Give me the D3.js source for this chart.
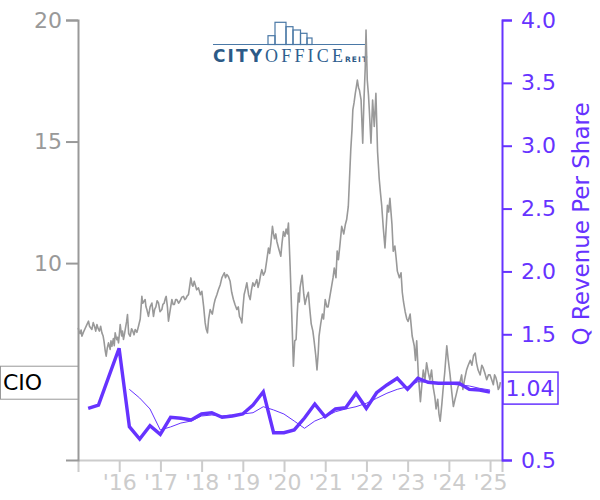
<!DOCTYPE html>
<html><head><meta charset="utf-8">
<script src="https://cdn.jsdelivr.net/npm/d3@7"></script>
<style>body{margin:0;background:#fff}svg{display:block}</style>
</head><body><svg id="c" width="600" height="500"></svg>
<script>
// ---- data ----
const ticker = "CIO";
const axisTitle = "Q Revenue Per Share";
const yearTicks = [2016,2017,2018,2019,2020,2021,2022,2023,2024,2025];
const priceTicks = [5,10,15,20];
const revTicks = [0.5,1.0,1.5,2.0,2.5,3.0,3.5,4.0];

const priceYears = [
2015.005,2015.03,2015.05,2015.075,2015.095,2015.13,2015.17,2015.21,2015.255,2015.28,2015.30,2015.337,2015.37,2015.40,2015.43,2015.459,2015.49,2015.52,2015.55,2015.58,2015.61,2015.63,2015.66,2015.684,2015.71,2015.74,2015.78,2015.80,2015.822,2015.86,2015.88,2015.902,2015.94,2015.96,2015.983,
2016.005,2016.024,2016.06,2016.08,2016.104,2016.13,2016.15,2016.18,2016.201,2016.23,2016.266,2016.30,2016.33,2016.36,2016.388,2016.43,2016.468,2016.51,2016.55,2016.57,2016.59,2016.63,2016.65,2016.67,2016.71,2016.75,2016.793,2016.832,2016.86,2016.89,2016.92,2016.953,2016.99,
2017.035,2017.06,2017.09,2017.12,2017.14,2017.17,2017.196,2017.24,2017.278,2017.31,2017.34,2017.37,2017.399,2017.44,2017.48,2017.52,2017.559,2017.59,2017.62,2017.65,2017.681,2017.739,2017.77,2017.79,2017.82,2017.843,2017.88,2017.923,2017.97,
2018.006,2018.05,2018.086,2018.11,2018.142,2018.17,2018.207,2018.26,2018.30,2018.328,2018.37,2018.409,2018.45,2018.491,2018.52,2018.55,2018.58,2018.612,2018.65,2018.692,2018.73,2018.772,2018.81,2018.855,2018.89,2018.92,2018.95,2018.976,
2019.00,2019.032,2019.06,2019.098,2019.14,2019.178,2019.21,2019.243,2019.28,2019.34,2019.37,2019.40,2019.43,2019.461,2019.50,2019.542,2019.58,2019.622,2019.65,2019.68,2019.719,2019.745,2019.77,2019.80,2019.825,2019.87,2019.922,2019.95,2019.985,
2020.02,2020.05,2020.08,2020.107,2020.148,2020.189,2020.228,2020.26,2020.293,2020.32,2020.349,2020.37,2020.39,2020.42,2020.44,2020.48,2020.51,2020.55,2020.59,2020.62,2020.66,2020.70,2020.73,2020.77,2020.80,2020.83,2020.85,2020.89,2020.93,2020.96,
2021.00,2021.04,2021.07,2021.11,2021.15,2021.19,2021.22,2021.26,2021.29,2021.32,2021.36,2021.40,2021.45,2021.49,2021.52,2021.56,2021.59,2021.62,2021.65,2021.67,2021.70,2021.73,2021.76,2021.78,2021.81,2021.83,2021.87,2021.91,2021.94,2021.97,2021.99,
2022.02,2022.05,2022.07,2022.11,2022.15,2022.19,2022.23,2022.27,2022.31,2022.34,2022.37,2022.41,2022.45,2022.48,2022.51,2022.54,2022.57,2022.62,2022.65,2022.69,2022.72,2022.75,2022.80,2022.84,2022.87,2022.90,2022.94,2022.98,
2023.01,2023.06,2023.11,2023.16,2023.19,2023.22,2023.26,2023.31,2023.35,2023.38,2023.42,2023.46,2023.50,2023.54,2023.58,2023.62,2023.66,2023.69,2023.73,2023.76,2023.79,2023.83,2023.86,2023.90,2023.95,2023.98,
2024.03,2024.07,2024.11,2024.15,2024.18,2024.22,2024.27,2024.31,2024.34,2024.38,2024.43,2024.47,2024.52,2024.56,2024.60,2024.64,2024.67,2024.71,2024.76,2024.80,2024.83,2024.87,2024.92,2024.96,
2025.00,2025.04,2025.08,2025.11,2025.14,2025.17,2025.20,2025.23,2025.25
];
const priceValues = [
7.34,7.15,7.10,7.25,6.99,7.15,7.30,7.45,7.61,7.40,7.35,7.27,7.55,7.40,7.20,7.47,7.30,7.20,7.40,7.13,7.00,6.80,6.40,6.17,6.50,6.72,6.45,6.80,6.58,6.90,6.60,7.13,6.85,6.95,6.72,
7.10,7.47,7.00,7.20,6.86,7.10,7.30,7.60,7.88,7.10,6.99,7.30,7.20,7.05,7.27,7.15,7.40,7.70,8.63,8.35,8.40,8.50,8.20,8.10,7.81,8.20,8.36,7.81,8.10,8.20,8.45,8.36,8.00,
8.09,8.30,8.35,8.55,8.63,8.20,7.61,8.10,8.50,8.30,8.30,8.50,8.50,8.35,8.45,8.60,8.63,8.50,8.55,8.65,8.70,9.39,9.10,9.05,9.25,9.12,8.90,8.98,8.70,
8.84,8.20,7.54,7.30,7.13,7.70,8.09,7.90,8.30,8.50,8.70,8.91,9.10,9.39,9.50,9.60,9.40,9.53,9.45,9.25,8.80,8.50,8.30,8.09,8.20,7.80,7.70,7.54,
8.10,8.71,8.90,9.19,8.70,8.50,8.90,9.19,9.05,9.32,9.00,9.20,9.50,9.73,9.50,9.66,10.10,10.62,10.40,10.80,11.51,11.20,11.00,11.20,10.90,10.60,10.28,10.80,11.30,
11.10,11.40,11.20,11.65,9.87,7.81,5.76,6.80,6.86,7.90,8.77,8.40,9.00,9.30,9.50,8.70,8.30,8.60,8.80,8.20,7.50,7.20,6.80,6.20,5.60,6.30,7.00,7.50,7.90,7.70,
8.50,8.20,8.20,8.60,9.00,9.40,9.80,9.40,10.50,10.14,10.80,11.51,11.20,11.60,11.79,12.33,13.50,14.66,15.50,16.30,16.60,16.98,17.30,17.53,17.20,17.12,16.71,14.93,16.71,18.00,19.59,
17.53,16.90,16.30,14.93,16.71,15.62,16.98,14.58,13.47,12.90,12.38,11.43,10.62,11.50,12.38,12.10,12.67,11.58,10.49,10.70,10.22,9.67,9.40,9.60,8.80,8.40,8.00,7.70,
7.60,7.90,7.00,6.60,6.00,6.80,5.40,4.30,5.10,5.60,5.20,5.90,5.50,5.20,5.60,4.90,4.50,4.00,4.40,3.80,3.50,4.20,4.80,5.50,6.60,6.10,
5.40,4.70,4.10,4.40,4.60,4.90,5.10,5.40,4.80,5.20,5.60,5.80,6.00,5.80,6.20,6.30,5.90,5.60,5.40,5.80,5.70,5.50,5.20,5.40,
5.40,5.20,5.00,5.40,5.30,5.10,4.80,4.90,5.10
];

const revQuarters = ["2015Q1","2015Q2","2015Q3","2015Q4","2016Q1","2016Q2","2016Q3","2016Q4",
"2017Q1","2017Q2","2017Q3","2017Q4","2018Q1","2018Q2","2018Q3","2018Q4",
"2019Q1","2019Q2","2019Q3","2019Q4","2020Q1","2020Q2","2020Q3","2020Q4",
"2021Q1","2021Q2","2021Q3","2021Q4","2022Q1","2022Q2","2022Q3","2022Q4",
"2023Q1","2023Q2","2023Q3","2023Q4","2024Q1","2024Q2","2024Q3","2024Q4"];
const revValues = [0.911,0.937,1.163,1.389,0.765,0.667,0.773,0.704,
0.840,0.832,0.818,0.866,0.876,0.840,0.850,0.866,
0.937,1.043,0.717,0.717,0.739,0.834,0.945,0.844,
0.906,0.916,1.031,0.911,1.035,1.097,1.150,1.062,
1.150,1.118,1.110,1.110,1.110,1.062,1.057,1.040];

const avgQuarters = revQuarters.slice(4);
const avgValues = [1.062,0.993,0.906,0.739,
0.763,0.794,0.810,0.850,0.858,0.850,0.858,0.866,
0.876,0.924,0.898,0.866,0.810,0.752,0.810,0.844,
0.884,0.906,0.924,0.951,0.991,1.031,1.062,1.083,
1.123,1.118,1.110,1.104,1.097,1.089,1.070,1.057];

// ---- chart ----
const FONT = "DejaVu Sans, sans-serif";
const PURPLE = "#6633ff";
const svg = d3.select("#c");
const x = d3.scaleLinear().domain([2015.0, 2025.29]).range([78, 502]);
const yL = d3.scaleLinear().domain([1.9, 20]).range([460, 20]);
const yR = d3.scaleLinear().domain([0.5, 4.0]).range([460, 20]);
const qYear = q => +q.slice(0,4) + (+q.slice(5)) * 0.25 - 0.003;

const lastP = priceValues[priceValues.length-1];
const lastR = revValues[revValues.length-1];

// logo
const logo = svg.append("g").attr("fill","none").attr("stroke","#4a78a6").attr("stroke-width",1.2);
logo.append("line").attr("x1",213).attr("x2",366).attr("y1",44.5).attr("y2",44.5);
[[268,35.7,7,8.8],[275,22.3,11,22.2],[277.5,24.5,0,20],[286,26.7,7,17.8],[288,28.5,0,16],[293,30,7.5,14.5],[295,32,0,12.5],[300.5,33.3,6.5,11.2],[307,38,5,6.5]]
  .forEach(r => logo.append("rect").attr("x",r[0]).attr("y",r[1]).attr("width",r[2]).attr("height",r[3]));
svg.append("text").attr("x",213).attr("y",62).attr("font-family","DejaVu Sans").attr("font-weight","bold")
  .attr("font-size",17).attr("fill","#2c5a87").attr("textLength",49).attr("lengthAdjust","spacing").text("CITY");
svg.append("text").attr("x",265).attr("y",62).attr("font-family","Liberation Serif").attr("font-size",18)
  .attr("fill","#2f5f8f").attr("textLength",78).attr("lengthAdjust","spacing").text("OFFICE");
svg.append("text").attr("x",345).attr("y",62).attr("font-family","DejaVu Sans").attr("font-weight","bold")
  .attr("font-size",7.5).attr("fill","#2c5a87").attr("textLength",22).attr("lengthAdjust","spacing").text("REIT");

// price line
const priceData = priceYears.map((t,i)=>[t, priceValues[i]]);
svg.append("path").datum(priceData).attr("fill","none").attr("stroke","#999").attr("stroke-width",1.6)
  .attr("stroke-linejoin","round").attr("d", d3.line().x(d=>x(d[0])).y(d=>yL(d[1])));

// revenue lines
const avgData = avgQuarters.map((q,i)=>[qYear(q), avgValues[i]]);
svg.append("path").datum(avgData).attr("fill","none").attr("stroke",PURPLE).attr("stroke-width",1)
  .attr("d", d3.line().x(d=>x(d[0])).y(d=>yR(d[1])));
const revData = revQuarters.map((q,i)=>[qYear(q), revValues[i]]);
svg.append("path").datum(revData).attr("fill","none").attr("stroke",PURPLE).attr("stroke-width",3.4)
  .attr("d", d3.line().x(d=>x(d[0])).y(d=>yR(d[1])));

// x axis
const gx = svg.append("g").attr("transform","translate(0,460)")
  .call(d3.axisBottom(x).tickValues(yearTicks).tickFormat(d=>"'"+String(d).slice(2)).tickSize(12).tickPadding(2));
gx.selectAll("path,line").attr("stroke","#ccc").attr("stroke-width",2);
gx.selectAll("text").attr("fill","#ccc").attr("font-family",FONT).attr("font-size",22);

// left axis (the label under the ticker box is hidden, as in the reference)
const gl = svg.append("g").attr("transform","translate(78,0)")
  .call(d3.axisLeft(yL).tickValues(priceTicks).tickSize(12).tickPadding(4)
    .tickFormat(d => Math.abs(yL(d) - yL(lastP)) < 20 ? "" : d));
gl.selectAll("path,line").attr("stroke","#999").attr("stroke-width",2);
gl.selectAll("text").attr("fill","#999").attr("font-family",FONT).attr("font-size",22);

// right axis (label under the value box hidden)
const gr = svg.append("g").attr("transform","translate(502,0)")
  .call(d3.axisRight(yR).tickValues(revTicks).tickSize(10).tickPadding(9)
    .tickFormat(d => Math.abs(yR(d) - yR(lastR)) < 20 ? "" : d3.format(".1f")(d)));
gr.selectAll("path,line").attr("stroke",PURPLE).attr("stroke-width",2);
gr.selectAll("text").attr("fill",PURPLE).attr("font-family",FONT).attr("font-size",22);

svg.append("text").attr("transform","translate(589,224) rotate(-90)").attr("text-anchor","middle")
  .attr("font-family",FONT).attr("font-size",23).attr("fill",PURPLE).text(axisTitle);

// last value labels
const cy = yL(lastP);
svg.append("rect").attr("x",0.5).attr("y",cy-16).attr("width",77.5).attr("height",33)
  .attr("fill","#fff").attr("stroke","#999").attr("stroke-width",1);
svg.append("text").attr("x",3).attr("y",cy+8).attr("font-family",FONT).attr("font-size",22).attr("fill","#000").text(ticker);

const ry = yR(lastR);
svg.append("rect").attr("x",503).attr("y",ry-20).attr("width",55).attr("height",32)
  .attr("fill","#fff").attr("stroke",PURPLE).attr("stroke-width",1.5);
svg.append("text").attr("x",505.5).attr("y",ry+4).attr("font-family",FONT).attr("font-size",22).attr("fill",PURPLE)
  .text(d3.format(".2f")(lastR));
</script></body></html>
